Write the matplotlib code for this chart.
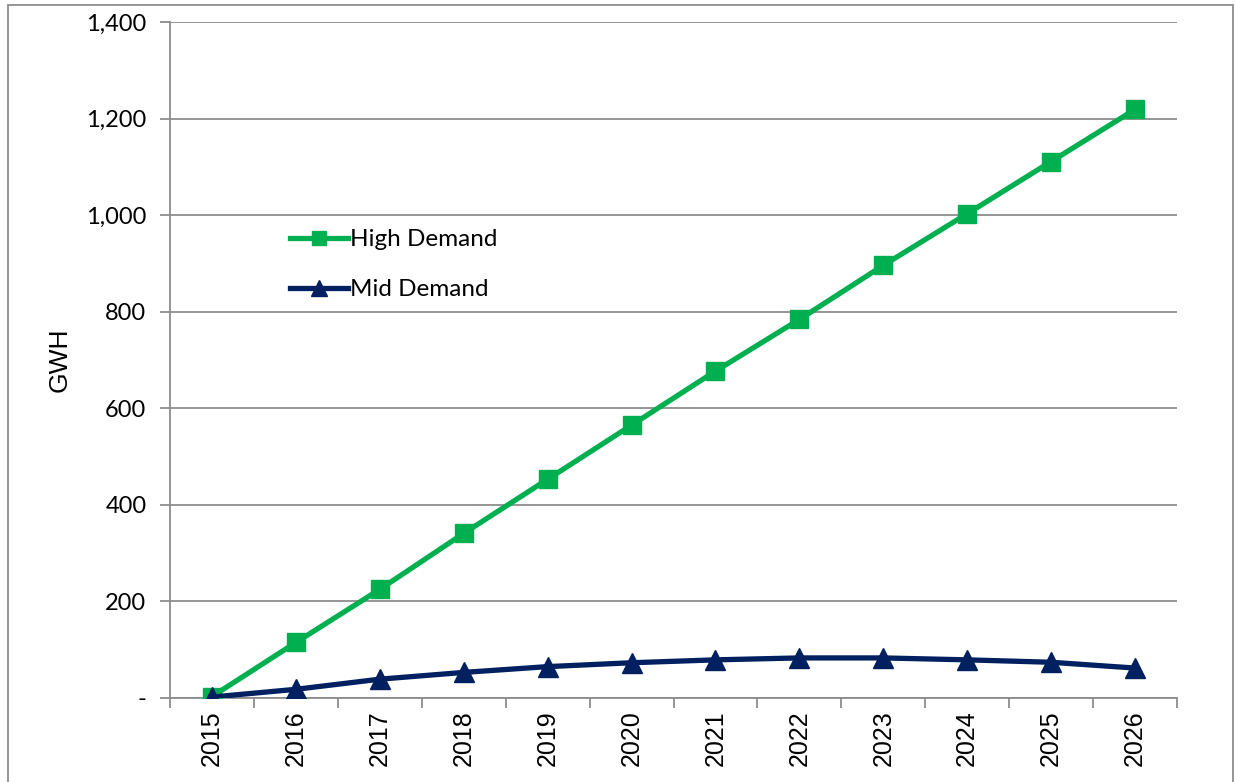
import numpy as np
import matplotlib.pyplot as plt
from matplotlib.ticker import FuncFormatter, FixedLocator
from matplotlib.patches import Rectangle

# Data
years = ['2015', '2016', '2017', '2018', '2019', '2020',
         '2021', '2022', '2023', '2024', '2025', '2026']
high_demand = [3, 115, 225, 341, 453, 565, 677, 784, 896, 1003, 1111, 1219]
mid_demand = [2, 18, 39, 53, 65, 73, 79, 83, 83, 79, 74, 62]

green = '#00B050'
navy = '#002060'
grid_gray = '#8C8C8C'

fig = plt.figure(figsize=(12.35, 7.82), dpi=100)
ax = fig.add_axes([170 / 1235, 1 - 698 / 782, (1177 - 170) / 1235, (698 - 22) / 782])

x = np.arange(len(years))
ax.plot(x, high_demand, color=green, lw=3.8, marker='s', markersize=13,
        label='High Demand', zorder=3)
ax.plot(x, mid_demand, color=navy, lw=3.8, marker='^', markersize=14,
        label='Mid Demand', zorder=4)

ax.set_xlim(-0.5, len(years) - 0.5)
ax.set_ylim(0, 1400)
ax.set_yticks(np.arange(0, 1401, 200))
ax.yaxis.set_major_formatter(FuncFormatter(lambda v, p: '-' if v == 0 else f'{v:,.0f}'))
ax.grid(axis='y', color=grid_gray, lw=1.3)
ax.set_axisbelow(True)

ax.set_xticks(x)
ax.set_xticklabels(years, rotation=90, fontsize=18, family='Liberation Sans')
ax.xaxis.set_minor_locator(FixedLocator(np.arange(-0.5, len(years), 1.0)))
ax.tick_params(axis='x', which='major', length=0, pad=9)
ax.tick_params(axis='x', which='minor', length=7, width=1.3, color=grid_gray)
ax.tick_params(axis='y', length=7, width=1.3, color=grid_gray, labelsize=17, pad=10)
for lab in ax.get_yticklabels():
    lab.set_family('Lato')

for s in ['top', 'right']:
    ax.spines[s].set_visible(False)
for s in ['left', 'bottom']:
    ax.spines[s].set_color(grid_gray)
    ax.spines[s].set_linewidth(1.3)

ax.set_ylabel('GWH', fontsize=19, family='Liberation Sans', labelpad=10)

leg = ax.legend(loc='upper left', bbox_to_anchor=(290 / 1235, 1 - 229 / 782),
                bbox_transform=fig.transFigure, frameon=False,
                handlelength=2.4, handletextpad=0.05, labelspacing=1.2,
                borderpad=0, borderaxespad=0,
                markerscale=0.8, prop={'family': 'Lato', 'size': 17.5})

# outer chart border
fig.patches.append(Rectangle((8 / 1235, -0.01), 1225 / 1235, 1 - 5 / 782 + 0.01,
                             transform=fig.transFigure, fill=False,
                             edgecolor=grid_gray, lw=1.3))

fig.savefig('out.png', dpi=100)
